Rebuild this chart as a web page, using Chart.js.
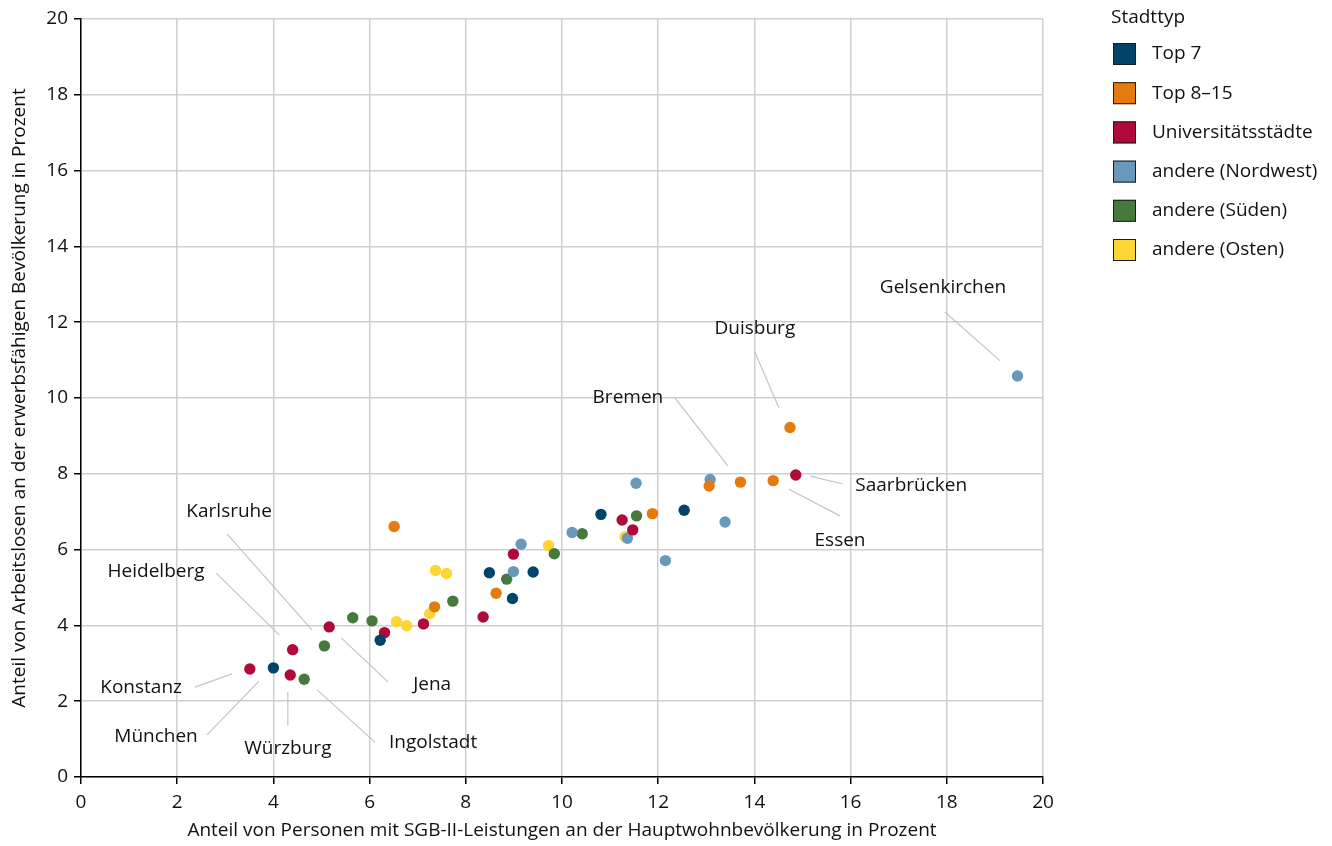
<!DOCTYPE html>
<html>
<head>
<meta charset="utf-8">
<script src="https://cdn.jsdelivr.net/npm/chart.js@4"></script>
<style>
  html, body { margin: 0; padding: 0; background: #fff; }
  #wrap { width: 1332px; height: 846px; position: relative; }
</style>
</head>
<body>
<div id="wrap"><canvas id="chart" width="1332" height="846"></canvas></div>
<script>
// Stadttypen (Reihenfolge wie in der Legende)
const seriesNames = ['Top 7', 'Top 8–15', 'Universitätsstädte', 'andere (Nordwest)', 'andere (Süden)', 'andere (Osten)'];
const seriesColors = ['#00446a', '#e57a0f', '#b00a3a', '#6a98ba', '#467a3d', '#fdd535'];

// x: SGB-II-Anteil, y: Arbeitslosenanteil (in Prozent)
const top7X = [4.0, 6.22, 8.49, 8.97, 9.40, 10.81, 12.54];
const top7Y = [2.88, 3.61, 5.39, 4.71, 5.41, 6.93, 7.04];

const top815X = [6.51, 7.35, 8.63, 11.88, 13.06, 13.71, 14.39, 14.74];
const top815Y = [6.61, 4.49, 4.85, 6.95, 7.68, 7.78, 7.82, 9.22];

const uniX = [3.51, 4.40, 4.35, 5.16, 6.31, 7.12, 8.36, 8.99, 11.25, 11.47, 14.86];
const uniY = [2.85, 3.36, 2.69, 3.96, 3.81, 4.04, 4.22, 5.88, 6.78, 6.52, 7.97];

const nordwestX = [8.99, 9.15, 10.21, 11.36, 11.54, 12.15, 13.08, 13.39, 19.47];
const nordwestY = [5.42, 6.14, 6.45, 6.30, 7.75, 5.71, 7.85, 6.73, 10.58];

const suedenX = [4.64, 5.06, 5.65, 6.05, 7.73, 8.85, 9.84, 10.42, 11.55];
const suedenY = [2.58, 3.46, 4.20, 4.12, 4.64, 5.22, 5.89, 6.42, 6.89];

const ostenX = [6.56, 6.77, 7.25, 7.37, 7.60, 9.72, 11.31];
const ostenY = [4.10, 3.99, 4.31, 5.45, 5.37, 6.11, 6.34];

const allX = [top7X, top815X, uniX, nordwestX, suedenX, ostenX];
const allY = [top7Y, top815Y, uniY, nordwestY, suedenY, ostenY];

// Beschriftete Städte: Textposition und Hinweislinie (in Achsenwerten)
const labelNames = ['Gelsenkirchen', 'Duisburg', 'Bremen', 'Saarbrücken', 'Essen', 'Karlsruhe', 'Heidelberg', 'Konstanz', 'München', 'Würzburg', 'Ingolstadt', 'Jena'];
const labelX = [17.92, 14.01, 11.37, 17.26, 15.78, 3.08, 1.56, 1.25, 1.56, 4.30, 7.32, 7.30];
const labelY = [12.90, 11.82, 10.00, 7.70, 6.23, 6.99, 5.41, 2.37, 1.06, 0.74, 0.92, 2.43];
const lineX1 = [17.96, 14.01, 12.33, 15.16, 14.72, 3.04, 2.81, 2.37, 2.62, 4.30, 4.91, 5.41];
const lineY1 = [12.27, 11.21, 10.03, 7.94, 7.59, 6.41, 5.38, 2.37, 1.11, 2.24, 2.30, 3.67];
const lineX2 = [19.11, 14.51, 13.45, 15.84, 15.78, 4.80, 4.12, 3.14, 3.70, 4.30, 6.11, 6.38];
const lineY2 = [10.98, 9.74, 8.21, 7.73, 6.89, 3.88, 3.75, 2.72, 2.53, 1.35, 0.92, 2.51];

const FONT = "'Open Sans', 'Noto Sans', sans-serif";
const TEXT = '#111111';
const FS = 19;

const datasets = seriesNames.map((name, i) => ({
  label: name,
  data: allX[i].map((x, j) => ({ x: x, y: allY[i][j] })),
  backgroundColor: seriesColors[i],
  borderWidth: 0,
  pointRadius: 5.7,
  pointHoverRadius: 5.7
}));

// Städtenamen mit Hinweislinien
const cityLabels = {
  id: 'cityLabels',
  afterDatasetsDraw(chart) {
    const c = chart.ctx;
    const xs = chart.scales.x, ys = chart.scales.y;
    c.save();
    c.strokeStyle = '#c4c4c4';
    c.lineWidth = 1.2;
    for (let i = 0; i < labelNames.length; i++) {
      c.beginPath();
      c.moveTo(xs.getPixelForValue(lineX1[i]), ys.getPixelForValue(lineY1[i]));
      c.lineTo(xs.getPixelForValue(lineX2[i]), ys.getPixelForValue(lineY2[i]));
      c.stroke();
    }
    c.fillStyle = TEXT;
    c.font = FS + 'px ' + FONT;
    c.textAlign = 'center';
    c.textBaseline = 'middle';
    for (let i = 0; i < labelNames.length; i++) {
      c.fillText(labelNames[i], xs.getPixelForValue(labelX[i]), ys.getPixelForValue(labelY[i]));
    }
    c.restore();
  }
};

// Legende rechts neben dem Diagramm
const sideLegend = {
  id: 'sideLegend',
  afterDraw(chart) {
    const c = chart.ctx;
    c.save();
    c.font = FS + 'px ' + FONT;
    c.fillStyle = TEXT;
    c.textAlign = 'left';
    c.textBaseline = 'middle';
    c.fillText('Stadttyp', 1111, 18);
    seriesNames.forEach((name, i) => {
      const cy = 54 + i * 39.2;
      c.fillStyle = seriesColors[i];
      c.fillRect(1113, cy - 11, 23, 22);
      c.strokeStyle = '#1a1a1a';
      c.lineWidth = 1;
      c.strokeRect(1113.5, cy - 10.5, 22, 21);
      c.fillStyle = TEXT;
      c.fillText(name, 1152, cy);
    });
    c.restore();
  }
};

const ctx = document.getElementById('chart');

new Chart(ctx, {
  type: 'scatter',
  data: { datasets: datasets },
  options: {
    responsive: false,
    animation: false,
    layout: { padding: { top: 19, right: 289, left: 0, bottom: 0 } },
    plugins: {
      legend: { display: false },
      tooltip: { enabled: false }
    },
    scales: {
      x: {
        min: 0, max: 20,
        ticks: { stepSize: 2, color: TEXT, font: { family: FONT, size: FS }, padding: 7, maxRotation: 0 },
        grid: { color: '#cfcfcf', lineWidth: 1.5, tickColor: '#000', tickLength: 7 },
        border: { color: '#000', width: 1.5 },
        title: {
          display: true,
          text: 'Anteil von Personen mit SGB-II-Leistungen an der Hauptwohnbevölkerung in Prozent',
          color: TEXT, font: { family: FONT, size: FS }, padding: { top: 6 }
        },
        afterFit(scale) { scale.height = 69; }
      },
      y: {
        min: 0, max: 20,
        ticks: { stepSize: 2, color: TEXT, font: { family: FONT, size: FS }, padding: 6 },
        grid: { color: '#cfcfcf', lineWidth: 1.5, tickColor: '#000', tickLength: 7 },
        border: { color: '#000', width: 1.5 },
        title: {
          display: true,
          text: 'Anteil von Arbeitslosen an der erwerbsfähigen Bevölkerung in Prozent',
          color: TEXT, font: { family: FONT, size: FS }, padding: { top: 8, bottom: 6 }
        },
        afterFit(scale) { scale.width = 81; }
      }
    }
  },
  plugins: [cityLabels, sideLegend]
});
</script>
</body>
</html>
